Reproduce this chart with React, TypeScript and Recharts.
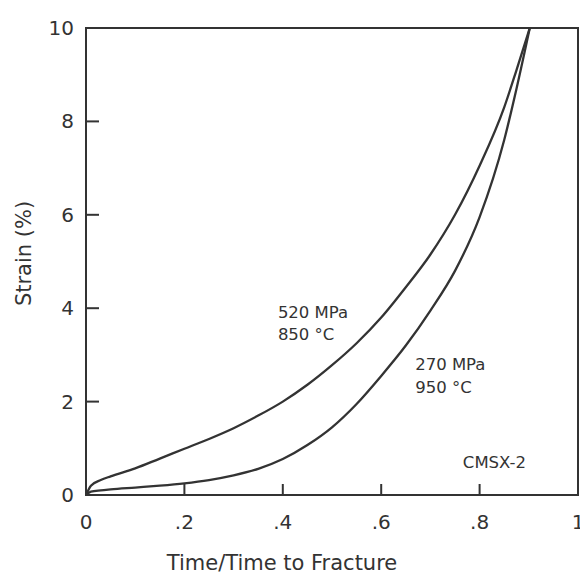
import React from 'react';
import { LineChart, Line, XAxis, YAxis, ReferenceArea, ReferenceDot } from 'recharts';

const timeFraction = [0, 0.01, 0.03, 0.05, 0.1, 0.15, 0.2, 0.25, 0.3, 0.35, 0.4, 0.45, 0.5, 0.55, 0.6, 0.65, 0.7, 0.75, 0.8, 0.85, 0.875, 0.902];
const strain520 = [0, 0.2, 0.32, 0.4, 0.57, 0.78, 0.99, 1.2, 1.43, 1.7, 2.0, 2.36, 2.78, 3.25, 3.8, 4.45, 5.15, 6.0, 7.05, 8.3, 9.1, 10];
const strain270 = [0, 0.07, 0.1, 0.12, 0.16, 0.2, 0.25, 0.32, 0.42, 0.56, 0.77, 1.07, 1.45, 1.95, 2.55, 3.2, 3.95, 4.8, 5.95, 7.6, 8.7, 10];

const xTicks = [0, 0.2, 0.4, 0.6, 0.8, 1];
const xTickLabels = ['0', '.2', '.4', '.6', '.8', '1'];
const yTicks = [0, 2, 4, 6, 8, 10];

const data = timeFraction.map((t, i) => ({ t, a: strain520[i], b: strain270[i] }));

const INK = '#333333';
const FONT = 'DejaVu Sans, sans-serif';

const textShape = (lines: string[], size: number) => (p: any) => (
  <text x={p.cx} y={p.cy} fill={INK} fontFamily={FONT} fontSize={size}>
    {lines.map((l, i) => (
      <tspan key={i} x={p.cx} dy={i === 0 ? 0 : size * 1.35}>{l}</tspan>
    ))}
  </text>
);

const XTick = (props: any) => {
  const { x, y, payload, index } = props;
  const v = payload.value;
  const label = xTickLabels[xTicks.indexOf(v)] ?? String(v);
  const edge = index === 0 || index === xTicks.length - 1;
  return (
    <g>
      {!edge && <line x1={x} y1={y} x2={x} y2={y - 11} stroke={INK} strokeWidth={2} />}
      <text x={x} y={y + 34} textAnchor="middle" fill={INK} fontFamily={FONT} fontSize={20}>{label}</text>
    </g>
  );
};

const YTick = (props: any) => {
  const { x, y, payload, index } = props;
  const edge = index === 0 || index === yTicks.length - 1;
  return (
    <g>
      {!edge && <line x1={x} y1={y} x2={x + 13} y2={y} stroke={INK} strokeWidth={2} />}
      <text x={x - 12} y={y} textAnchor="end" dominantBaseline="central" fill={INK} fontFamily={FONT} fontSize={20}>{payload.value}</text>
    </g>
  );
};

const XLabel = (props: any) => {
  const vb = props.viewBox;
  return (
    <text x={vb.x + vb.width / 2 - 50} y={vb.y + 75} textAnchor="middle" fill={INK} fontFamily={FONT} fontSize={21}>
      Time/Time to Fracture
    </text>
  );
};

const YLabel = (props: any) => {
  const vb = props.viewBox;
  const cx = vb.x + 2;
  const cy = vb.y + vb.height / 2 - 8;
  return (
    <text x={cx} y={cy} transform={`rotate(-90, ${cx}, ${cy})`} textAnchor="middle" dominantBaseline="central" fill={INK} fontFamily={FONT} fontSize={21}>
      Strain (%)
    </text>
  );
};

export default function App() {
  return (
    <div style={{ width: 580, height: 573, background: '#fff' }}>
      <LineChart width={580} height={573} data={data} margin={{ top: 20, right: 10, bottom: 6, left: 14 }}>
        <XAxis
          dataKey="t"
          type="number"
          domain={[0, 1]}
          ticks={xTicks}
          height={80}
          axisLine={{ stroke: INK, strokeWidth: 2 }}
          tickLine={false}
          tickSize={0}
          tickMargin={0}
          tick={<XTick />}
          label={<XLabel />}
        />
        <YAxis
          type="number"
          domain={[0, 10]}
          ticks={yTicks}
          width={64}
          axisLine={{ stroke: INK, strokeWidth: 2 }}
          tickLine={false}
          tickSize={0}
          tickMargin={0}
          tick={<YTick />}
          label={<YLabel />}
        />
        <ReferenceArea x1={0} x2={1} y1={0} y2={10} fill="none" stroke={INK} strokeWidth={2} />
        <Line type="monotone" dataKey="a" stroke={INK} strokeWidth={2.3} dot={false} isAnimationActive={false} />
        <Line type="monotone" dataKey="b" stroke={INK} strokeWidth={2.3} dot={false} isAnimationActive={false} />
        <ReferenceDot x={0.39} y={3.79} r={0} ifOverflow="visible" shape={textShape(['520 MPa', '850 °C'], 16.5)} />
        <ReferenceDot x={0.669} y={2.67} r={0} ifOverflow="visible" shape={textShape(['270 MPa', '950 °C'], 16.5)} />
        <ReferenceDot x={0.766} y={0.58} r={0} ifOverflow="visible" shape={textShape(['CMSX-2'], 16.5)} />
      </LineChart>
    </div>
  );
}
